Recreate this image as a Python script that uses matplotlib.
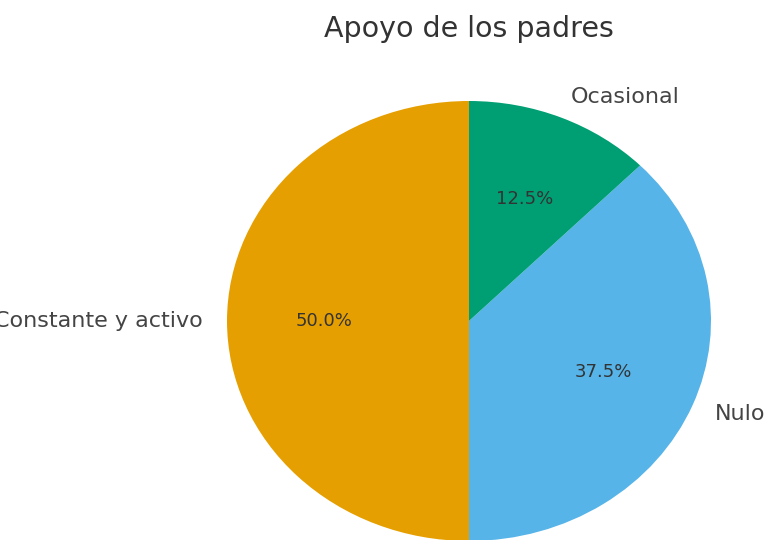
import matplotlib.pyplot as plt

# datos
categorias = ["Constante y activo", "Nulo", "Ocasional"]
valores = [50.0, 37.5, 12.5]
colores = ["#E69F00", "#56B4E9", "#009E73"]

fig = plt.figure(figsize=(7.65, 5.4), dpi=100)
ax = fig.add_axes([(469 - 242) / 765, (540 - 321 - 220) / 540, 484 / 765, 440 / 540])

wedges, texts, autotexts = ax.pie(
    valores,
    labels=categorias,
    colors=colores,
    autopct="%1.1f%%",
    startangle=90,
    textprops={"fontsize": 16, "color": "#444444"},
)
for t in autotexts:
    t.set_fontsize(13)
    t.set_color("#333333")

ax.set_aspect("auto")
ax.set_xlim(-1, 1)
ax.set_ylim(-1, 1)

fig.text(469 / 765, 1 - 29 / 540, "Apoyo de los padres", ha="center", va="center",
         fontsize=20.5, color="#333333")

plt.savefig("out.png", dpi=100)
